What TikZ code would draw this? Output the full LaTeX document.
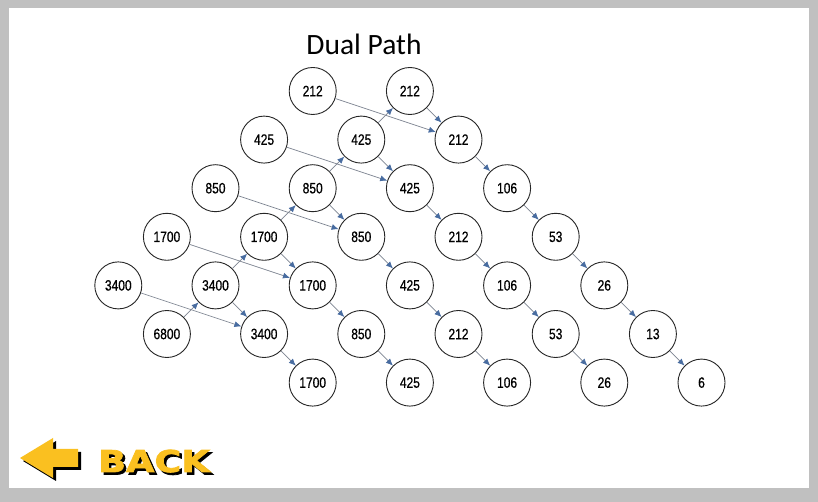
\documentclass[tikz,border=0pt]{standalone}
\usepackage{fontspec}
\setmainfont{Liberation Sans}
\newfontfamily\titlefont{Carlito}
\newfontfamily\numfont[FakeStretch = 0.8, FakeBold = 0.6]{Liberation Sans}
\newfontfamily\backfont[FakeStretch = 1.22, FakeBold = 2.5]{DejaVu Sans}
\usetikzlibrary{arrows.meta, positioning}

\definecolor{framegray}{RGB}{192,192,192}
\definecolor{linegray}{RGB}{125,132,145}
\definecolor{tipblue}{RGB}{72,108,160}
\definecolor{backyellow}{RGB}{250,192,32}

\newcommand\shadowtext[1]{\makebox[0pt][l]{\hspace{2.5pt}\raisebox{-2.5pt}{\color{black}#1}}#1}

\begin{document}
\begin{tikzpicture}[
        x = 1pt, y = 1pt,
        node distance = 48.6pt and 48.6pt, on grid,
        >= {Latex[color = tipblue, length = 7pt, width = 6pt]},
        every edge/.style = {draw = linegray, line width = 0.7pt},
        num/.style = {circle, draw = black!85, line width = 0.9pt, minimum size = 47pt,
                      inner sep = 0pt, font = \numfont\fontsize{15}{15}\selectfont},
        backtext/.style = {anchor = base west, inner sep = 0pt, text = backyellow,
                           font = \backfont\bfseries\fontsize{30}{30}\selectfont}
    ]
      \fill[framegray] (0,0) rectangle (818,502);
      \fill[white] (9,14) rectangle (809,494);
      \useasboundingbox (0,0) rectangle (818,502);

      \node[anchor = base, font = \titlefont\fontsize{29.5}{29.5}\selectfont] (title) at (364,447) {Dual Path};

      \node[num] (r5c1) at (166.9,168) {6800};
      \node[num] (r4c2) [above right = of r5c1] {3400};
      \node[num] (r3c3) [above right = of r4c2] {1700};
      \node[num] (r2c4) [above right = of r3c3] {850};
      \node[num] (r1c5) [above right = of r2c4] {425};
      \node[num] (r0c6) [above right = of r1c5] {212};

      \node[num] (r4c0) [above left = of r5c1] {3400};
      \node[num] (r3c1) [above left = of r4c2] {1700};
      \node[num] (r2c2) [above left = of r3c3] {850};
      \node[num] (r1c3) [above left = of r2c4] {425};
      \node[num] (r0c4) [above left = of r1c5] {212};

      \node[num] (r5c3) [below right = of r4c2] {3400};
      \node[num] (r6c4) [below right = of r5c3] {1700};

      \node[num] (r4c4) [below right = of r3c3] {1700};
      \node[num] (r5c5) [below right = of r4c4] {850};
      \node[num] (r6c6) [below right = of r5c5] {425};

      \node[num] (r3c5) [below right = of r2c4] {850};
      \node[num] (r4c6) [below right = of r3c5] {425};
      \node[num] (r5c7) [below right = of r4c6] {212};
      \node[num] (r6c8) [below right = of r5c7] {106};

      \node[num] (r2c6) [below right = of r1c5] {425};
      \node[num] (r3c7) [below right = of r2c6] {212};
      \node[num] (r4c8) [below right = of r3c7] {106};
      \node[num] (r5c9) [below right = of r4c8] {53};
      \node[num] (r6c10) [below right = of r5c9] {26};

      \node[num] (r1c7) [below right = of r0c6] {212};
      \node[num] (r2c8) [below right = of r1c7] {106};
      \node[num] (r3c9) [below right = of r2c8] {53};
      \node[num] (r4c10) [below right = of r3c9] {26};
      \node[num] (r5c11) [below right = of r4c10] {13};
      \node[num] (r6c12) [below right = of r5c11] {6};

      \path[->] (r0c4) edge (r1c7)
                (r1c3) edge (r2c6)
                (r2c2) edge (r3c5)
                (r3c1) edge (r4c4)
                (r4c0) edge (r5c3);

      \path[->] (r5c1) edge (r4c2)
                (r4c2) edge (r3c3)
                (r3c3) edge (r2c4)
                (r2c4) edge (r1c5)
                (r1c5) edge (r0c6);

      \path[->] (r4c2) edge (r5c3)
                (r5c3) edge (r6c4)
                (r3c3) edge (r4c4)
                (r4c4) edge (r5c5)
                (r5c5) edge (r6c6)
                (r2c4) edge (r3c5)
                (r3c5) edge (r4c6)
                (r4c6) edge (r5c7)
                (r5c7) edge (r6c8)
                (r1c5) edge (r2c6)
                (r2c6) edge (r3c7)
                (r3c7) edge (r4c8)
                (r4c8) edge (r5c9)
                (r5c9) edge (r6c10)
                (r0c6) edge (r1c7)
                (r1c7) edge (r2c8)
                (r2c8) edge (r3c9)
                (r3c9) edge (r4c10)
                (r4c10) edge (r5c11)
                (r5c11) edge (r6c12);

      \foreach \dx/\dy/\col in {3/-3/black, 0/0/backyellow}
        \fill[\col, shift = {(\dx,\dy)}] (20,44) -- (53,64) -- (53,53) -- (78,53)
          -- (78,35) -- (53,35) -- (53,24) -- cycle;

      \node[backtext] (back) at (98,30) {\shadowtext{BACK}};
    \end{tikzpicture}
\end{document}
